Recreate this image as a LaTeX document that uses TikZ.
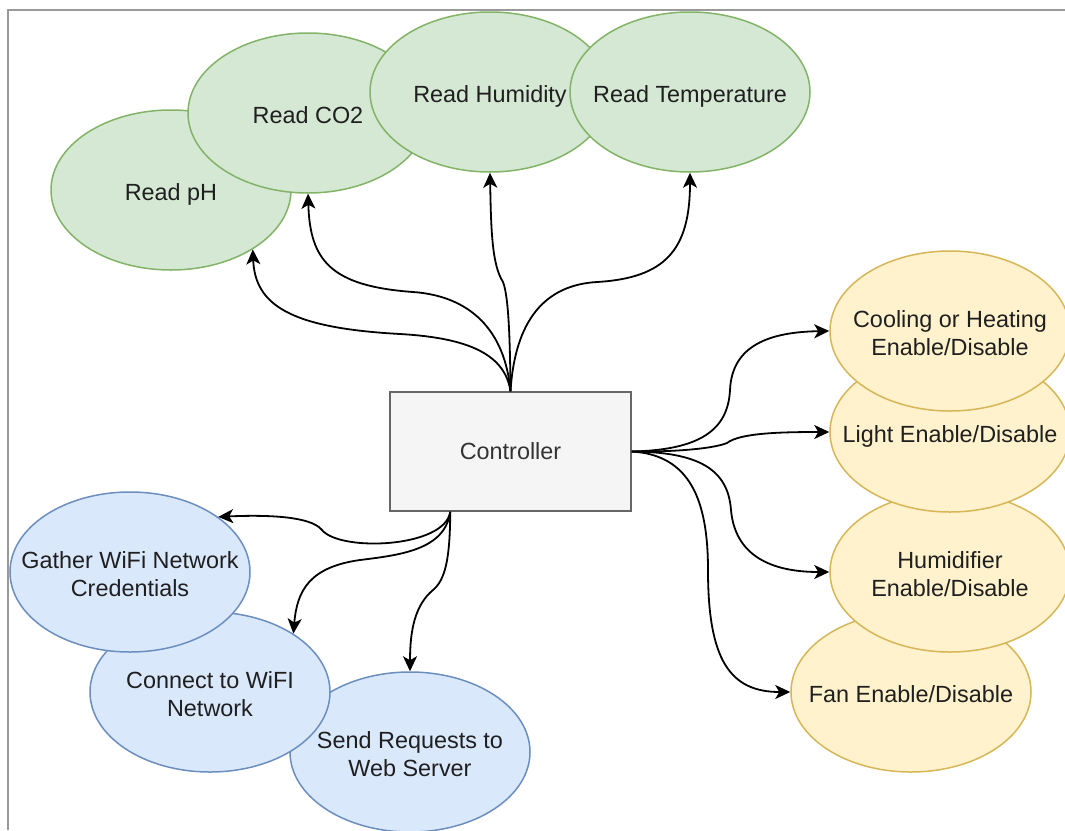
\documentclass[tikz,border=0pt]{standalone}
\usepackage{fontspec}
\setmainfont{Liberation Sans}
\usetikzlibrary{arrows.meta,shapes.geometric}
\definecolor{sensfill}{HTML}{D5E8D4}
\definecolor{sensline}{HTML}{82B366}
\definecolor{actfill}{HTML}{FFF2CC}
\definecolor{actline}{HTML}{D6B656}
\definecolor{netfill}{HTML}{DAE8FC}
\definecolor{netline}{HTML}{6C8EBF}
\definecolor{ctrlfill}{HTML}{F5F5F5}
\definecolor{ctrlline}{HTML}{666666}
\definecolor{ctrltext}{HTML}{333333}
\definecolor{framegray}{HTML}{9A9A9A}
\newcommand{\ellabel}[1]{\makebox[0pt]{\raisebox{-11pt}[0pt][0pt]{\begin{tabular}{@{}c@{}}#1\end{tabular}}}}

\begin{document}
\begin{tikzpicture}[x=1pt,y=-1pt,
  font=\fontsize{23.4}{28}\selectfont,
  bubble/.style={ellipse,minimum width=240pt,minimum height=160pt,inner sep=0pt,line width=1.5pt,text=black!88},
  sensor/.style={bubble,fill=sensfill,draw=sensline},
  actuator/.style={bubble,fill=actfill,draw=actline},
  network/.style={bubble,fill=netfill,draw=netline},
  link/.style={line width=1.8pt,-{Stealth[length=15pt,width=14pt,inset=4pt]}}]

  \useasboundingbox (0,0) rectangle (1065,830);

  % page frame
  \draw[framegray,line width=2.5pt] (8,830) -- (8,10) -- (1065,10);

  % sensor readings
  \node[sensor] (ph) at (171,190) {\ellabel{Read pH}};
  \node[sensor] (co2) at (308,113) {\ellabel{Read CO2}};
  \node[sensor] (hum) at (490,92) {\ellabel{Read Humidity}};
  \node[sensor] (temp) at (690,92) {\ellabel{Read Temperature}};

  % actuators
  \node[actuator] (fan) at (911,692) {\ellabel{Fan Enable/Disable}};
  \node[actuator] (humidif) at (950,572) {\ellabel{Humidifier\\Enable/Disable}};
  \node[actuator] (light) at (950,432) {\ellabel{Light Enable/Disable}};
  \node[actuator] (cool) at (950,331) {\ellabel{Cooling or Heating\\Enable/Disable}};

  % network tasks
  \node[network] (send) at (410,752) {\ellabel{Send Requests to\\Web Server}};
  \node[network] (connect) at (210,692) {\ellabel{Connect to WiFI\\Network}};
  \node[network] (gather) at (130,572) {\ellabel{Gather WiFi Network\\Credentials}};

  % controller
  \node[rectangle,fill=ctrlfill,draw=ctrlline,line width=1.5pt,minimum width=241pt,minimum height=119pt,text=ctrltext] (ctrl) at (510.5,451.5) {Controller};

  % links up
  \draw[link] (ctrl.north) .. controls (505,355) and (470,338) .. (400,334) .. controls (290,328) and (255,305) .. (ph.-36);
  \draw[link] (ctrl.north) .. controls (505,330) and (470,296) .. (413,292) .. controls (330,286) and (310,260) .. (co2.south);
  \draw[link] (ctrl.north) .. controls (510,330) and (508,295) .. (503,282) .. controls (492,265) and (491,230) .. (hum.south);
  \draw[link] (ctrl.north) .. controls (515,320) and (545,285) .. (597,282) .. controls (665,278) and (690,250) .. (temp.south);

  % links right
  \draw[link] (ctrl.east) .. controls (700,450) and (728,430) .. (730,390) .. controls (732,345) and (770,332) .. (cool.west);
  \draw[link] (ctrl.east) .. controls (680,452) and (715,448) .. (727,443) .. controls (740,433) and (780,432) .. (light.west);
  \draw[link] (ctrl.east) .. controls (700,452) and (728,470) .. (731,510) .. controls (735,555) and (770,572) .. (humidif.west);
  \draw[link] (ctrl.east) .. controls (690,455) and (708,500) .. (708,570) .. controls (708,660) and (730,692) .. (fan.west);

  % links down
  \draw[link] (ctrl.-135) .. controls (445,548) and (340,552) .. (322,530) .. controls (310,515) and (260,515) .. (gather.32);
  \draw[link] (ctrl.-135) .. controls (445,550) and (400,555) .. (360,560) .. controls (310,567) and (297,590) .. (connect.35);
  \draw[link] (ctrl.-135) .. controls (450,560) and (445,580) .. (433,590) .. controls (415,605) and (410,630) .. (send.north);

\end{tikzpicture}
\end{document}
